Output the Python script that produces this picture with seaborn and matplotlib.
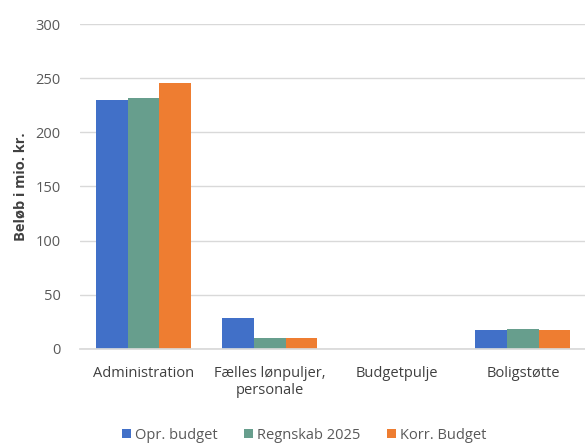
import matplotlib
matplotlib.use("Agg")
import matplotlib.pyplot as plt
import seaborn as sns
import pandas as pd

categories = ["Administration", "Fælles lønpuljer,\npersonale", "Budgetpulje", "Boligstøtte"]
series = ["Opr. budget", "Regnskab 2025", "Korr. Budget"]
opr_budget = [230, 28.5, 0, 17]
regnskab_2025 = [231.5, 10, 0, 18]
korr_budget = [245.5, 10, 0, 17]
colors = ["#4170C8", "#679E8D", "#EE7D31"]

rows = []
for s, vals in zip(series, [opr_budget, regnskab_2025, korr_budget]):
    for c, v in zip(categories, vals):
        rows.append({"Kategori": c, "Serie": s, "Beløb": v})
df = pd.DataFrame(rows)

sns.set_theme(style="white")
plt.rcParams['font.family'] = ['Open Sans', 'DejaVu Sans']
txt = "#404040"

fig = plt.figure(figsize=(5.85, 4.45), dpi=100)
ax = fig.add_axes([0.137, 0.216, 0.865, 0.730])
sns.barplot(data=df, x="Kategori", y="Beløb", hue="Serie", order=categories,
            hue_order=series, palette=colors, width=0.75, saturation=1,
            linewidth=0, edgecolor="none", ax=ax, legend=True)

ax.set_ylim(0, 300)
ax.set_yticks(range(0, 301, 50))
ax.yaxis.grid(True, color="#D9D9D9", linewidth=1)
ax.set_axisbelow(True)
for side in ["top", "right", "left"]:
    ax.spines[side].set_visible(False)
ax.spines["bottom"].set_color("#D9D9D9")
ax.tick_params(axis="y", length=0, labelsize=10.5, labelcolor="#595959", pad=14)
ax.tick_params(axis="x", length=0, labelsize=10.5, labelcolor=txt, pad=12)
ax.set_xlabel("")
ax.set_ylabel("Beløb i mio. kr.", fontsize=10.5, fontweight="bold", color=txt, labelpad=6)

handles, labels = ax.get_legend_handles_labels()
ax.legend_.remove()
fig.legend(handles, labels, loc="lower center", bbox_to_anchor=(0.52, -0.025),
           ncol=3, frameon=False, fontsize=10.5, labelcolor="#595959",
           handlelength=0.6, handleheight=0.6, handletextpad=0.3, columnspacing=1.8)

fig.savefig("out.png", dpi=100)
